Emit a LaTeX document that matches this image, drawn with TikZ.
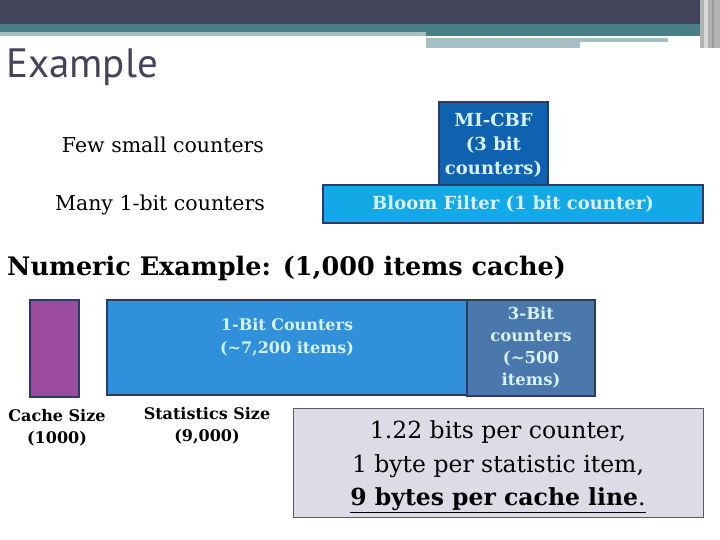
\documentclass[tikz,border=0pt]{standalone}
\usepackage{fontspec}
\setmainfont{DejaVu Serif}
\newfontfamily\titlefont{PT Sans}
\definecolor{darkbar}{HTML}{43445A}
\definecolor{teal}{HTML}{4A7F86}
\definecolor{lightteal}{HTML}{A6C0C4}
\definecolor{boxborder}{HTML}{2E3A63}
\definecolor{mifill}{HTML}{0F62B0}
\definecolor{bloomfill}{HTML}{12A9E6}
\definecolor{purplefill}{HTML}{9A4B9E}
\definecolor{onebitfill}{HTML}{3090DA}
\definecolor{threebitfill}{HTML}{4A78AD}
\definecolor{grayfill}{HTML}{DCDCE6}
\definecolor{grayborder}{HTML}{5A5A6A}
\definecolor{boxtext}{HTML}{D6F2FF}
\begin{document}
\begin{tikzpicture}[x=1pt,y=-1pt,
  blockbox/.style={draw=boxborder,line width=2.5pt,rectangle,inner sep=0pt},
  boxlabel/.style={text=boxtext,font=\fontsize{18}{24}\selectfont\bfseries,align=center},
  plainlabel/.style={font=\fontsize{20.5}{24}\selectfont,anchor=center},
  boldlabel/.style={font=\fontsize{16}{22}\selectfont\bfseries,align=center}]
\useasboundingbox (0,0) rectangle (720,540);
% header decoration
\fill[darkbar] (0,0) rectangle (720,24);
\fill[teal] (0,24) rectangle (700,32);
\fill[lightteal] (0,32) rectangle (426,36);
\fill[teal] (426,32) rectangle (700,36);
\fill[lightteal] (426,38) rectangle (668,42);
\fill[lightteal] (426,42) rectangle (580,48);
\fill[gray!60] (700,0) rectangle (720,48);
\fill[gray!30] (704,0) rectangle (708,48);
\fill[gray!80] (712,0) rectangle (714,48);
\node[anchor=west,text=darkbar,font=\titlefont\fontsize{41}{44}\selectfont,inner sep=0pt] (title) at (6,67) {Example};
% top comparison
\node[plainlabel] (few) at (163,145) {Few small counters};
\node[plainlabel] (many) at (160,205) {Many 1-bit counters};
\node[blockbox,fill=mifill,minimum width=109pt,minimum height=83pt] (mi) at (493.5,143.5) {};
\node[boxlabel] (milabel) at (493.5,145) {MI-CBF\\(3 bit\\counters)};
\node[blockbox,fill=bloomfill,minimum width=380pt,minimum height=38pt] (bloom) at (513,204) {};
\node[boxlabel] (bloomlabel) at (bloom.center) {Bloom Filter (1 bit counter)};
% numeric example
\node[anchor=west,font=\fontsize{25.5}{32}\selectfont\bfseries,inner sep=0pt] (numeric) at (7,268) {Numeric Example: (1,000 items cache)};
\node[blockbox,fill=purplefill,minimum width=49pt,minimum height=97pt] (cache) at (54.5,348.5) {};
\node[blockbox,fill=onebitfill,minimum width=360pt,minimum height=95pt] (onebit) at (287,347.5) {};
\node[boxlabel,font=\fontsize{16}{23}\selectfont\bfseries] (onebitlabel) at (287,337) {1-Bit Counters\\(\textasciitilde7,200 items)};
\node[blockbox,fill=threebitfill,minimum width=128pt,minimum height=96pt] (threebit) at (531,348) {};
\node[boxlabel,font=\fontsize{16.5}{22}\selectfont\bfseries] (threebitlabel) at (threebit.center) {3-Bit\\counters\\(\textasciitilde500\\items)};
\node[boldlabel] (cachelabel) at (57,428) {Cache Size\\(1000)};
\node[boldlabel] (statlabel) at (207,426) {Statistics Size\\(9,000)};
\node[draw=grayborder,line width=1pt,fill=grayfill,minimum width=410pt,minimum height=109pt] (summary) at (498,462.5) {};
\node[font=\fontsize{23.5}{33.5}\selectfont,align=center] (summarytext) at (498,467) {1.22 bits per counter,\\1 byte per statistic item,\\\underline{\textbf{9 bytes per cache line}.}};
\end{tikzpicture}
\end{document}
